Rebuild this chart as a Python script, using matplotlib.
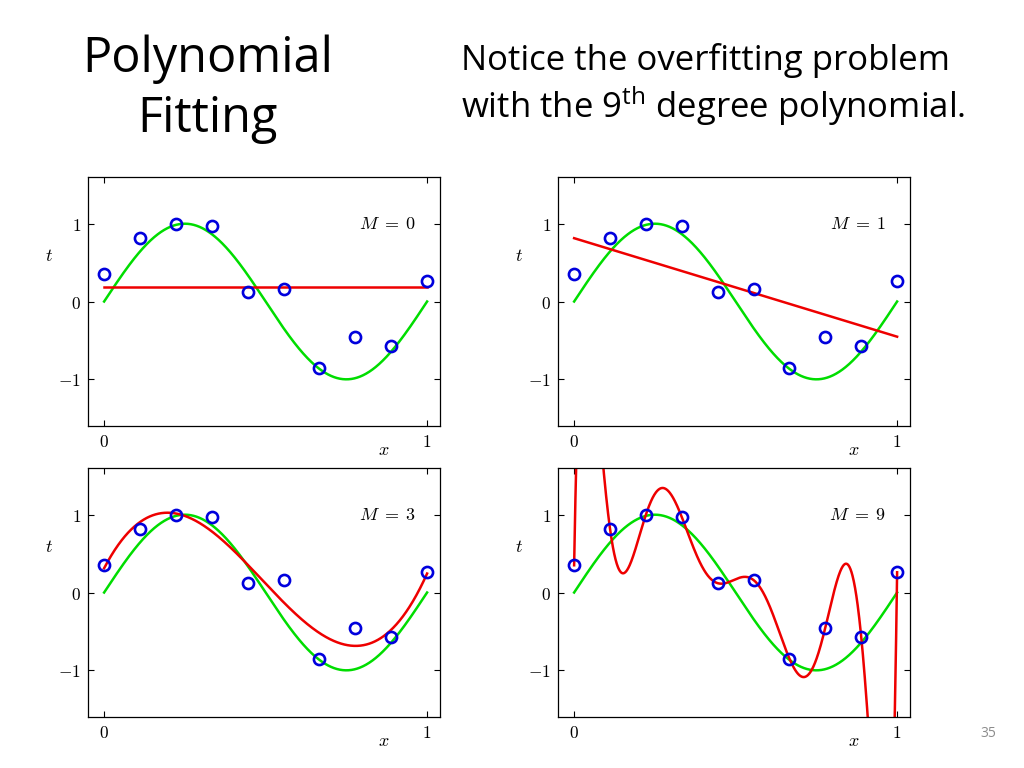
import numpy as np
import matplotlib
matplotlib.use('Agg')
import matplotlib.pyplot as plt

# slide text font (Calibri is not installed); math in the subtitle uses it too
slide_font = 'Open Sans'
plt.rcParams['mathtext.fontset'] = 'custom'
plt.rcParams['mathtext.rm'] = slide_font
plt.rcParams['mathtext.it'] = slide_font + ':italic'
plt.rcParams['mathtext.bf'] = slide_font + ':bold'

# noisy samples of sin(2 pi x)
x_data = [0.0, 1/9, 2/9, 3/9, 4/9, 5/9, 6/9, 7/9, 8/9, 1.0]
t_data = [0.35, 0.82, 1.00, 0.97, 0.12, 0.16, -0.85, -0.45, -0.57, 0.26]

# polynomial orders of the four panels
orders = [0, 1, 3, 9]
panel_labels = [r'$M\;=\;0$', r'$M\;=\;1$', r'$M\;=\;3$', r'$M\;=\;9$']

x_ticks = [0, 1]
x_ticklabels = ['$0$', '$1$']
y_ticks = [-1, 0, 1]
y_ticklabels = ['$-1$', '$0$', '$1$']

# axes rectangles in figure fraction (left, bottom, width, height)
panel_pos = [
    [0.0859, 0.4453, 0.3438, 0.3242],
    [0.5449, 0.4453, 0.3438, 0.3242],
    [0.0859, 0.0664, 0.3438, 0.3242],
    [0.5449, 0.0664, 0.3438, 0.3242],
]


def draw_panel(ax, order, label):
    xs = np.linspace(0, 1, 1000)
    coeffs = np.polyfit(x_data, t_data, order)

    ax.plot(xs, np.sin(2*np.pi*xs), color='#00dd00', lw=1.8)
    ax.plot(xs, np.polyval(coeffs, xs), color='#ee0000', lw=1.8)
    ax.plot(x_data, t_data, 'o', ms=8, mfc='none', mec='#0000dd', mew=1.9)

    ax.set_xlim(-0.05, 1.04)
    ax.set_ylim(-1.6, 1.6)
    ax.set_xticks(x_ticks)
    ax.set_xticklabels(x_ticklabels, math_fontfamily='cm', fontsize=12.5)
    ax.set_yticks(y_ticks)
    ax.set_yticklabels(y_ticklabels, math_fontfamily='cm', fontsize=12.5)
    ax.tick_params(direction='in', length=4, width=0.8, top=True, right=True, pad=5)
    for s in ax.spines.values():
        s.set_linewidth(0.9)

    ax.text(0.878, 1.0, label, ha='center', va='center', fontsize=13,
            math_fontfamily='cm')
    ax.text(-0.11, 0.59, '$t$', transform=ax.get_yaxis_transform(),
            ha='center', va='center', fontsize=13, math_fontfamily='cm')
    ax.text(0.865, -0.095, '$x$', transform=ax.get_xaxis_transform(),
            ha='center', va='center', fontsize=13, math_fontfamily='cm')


fig = plt.figure(figsize=(10.24, 7.68), dpi=100)

for pos, order, label in zip(panel_pos, orders, panel_labels):
    ax = fig.add_axes(pos)
    draw_panel(ax, order, label)

# slide title and note
fig.text(0.203, 1 - 72/768, 'Polynomial', ha='center', va='baseline',
         fontsize=35, family=slide_font)
fig.text(0.203, 1 - 132/768, 'Fitting', ha='center', va='baseline',
         fontsize=35, family=slide_font)
fig.text(0.450, 1 - 70/768, 'Notice the overfitting problem', ha='left',
         va='baseline', fontsize=25, family=slide_font)
fig.text(0.450, 1 - 118/768, r'with the 9$^{\mathrm{th}}$ degree polynomial.',
         ha='left', va='baseline', fontsize=25, family=slide_font)
fig.text(0.965, 0.045, '35', ha='center', va='center', fontsize=10,
         color='#8c8c8c', family=slide_font)

fig.savefig('out.png', dpi=100)
